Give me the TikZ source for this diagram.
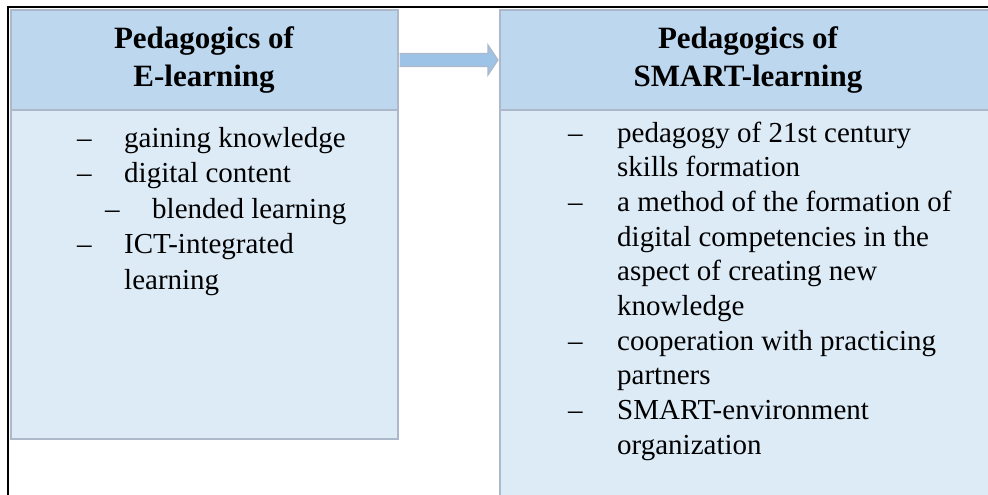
\documentclass[tikz,border=0pt]{standalone}
\usepackage{fontspec}
\setmainfont{Liberation Serif}
\usetikzlibrary{calc}
\definecolor{hdrfill}{HTML}{BDD7EE}
\definecolor{bodyfill}{HTML}{DDEBF7}
\definecolor{bordc}{HTML}{ADB9CA}
\definecolor{arrfill}{HTML}{9DC3E6}
\begin{document}
\begin{tikzpicture}[x=1pt,y=-1pt,
  box/.style={draw=bordc, line width=2pt, inner sep=0pt, anchor=north west},
  hdr/.style={box, fill=hdrfill, font=\fontsize{31}{38}\selectfont\bfseries, align=center},
  bdy/.style={box, fill=bodyfill},
  item/.style={anchor=base west, inner sep=0pt, font=\fontsize{29}{35}\selectfont},
  framel/.style={draw=black, line width=2pt},
  arrowst/.style={draw=bordc, line width=1.2pt, fill=arrfill, line join=miter}]
\clip (0,0) rectangle (988,495);
\fill[white] (0,0) rectangle (988,495);
% boxes
\node[bdy, minimum width=387pt, minimum height=329pt] (lb) at (9.5,109) {};
\node[bdy, minimum width=496pt, minimum height=400pt] (rb) at (499,109) {};
\node[hdr, minimum width=387pt, minimum height=100pt] (lh) at (9.5,9) {Pedagogics of\\E-learning};
\node[hdr, minimum width=496pt, minimum height=100pt] (rh) at (499,9) {Pedagogics of\\SMART-learning};
% arrow
\draw[arrowst] ($(lh.east)+(1,-6.5)$) -- ($(rh.west)+(-11,-6.5)$) -- ($(rh.west)+(-11,-15)$)
  -- ($(rh.west)+(-1,0)$) -- ($(rh.west)+(-11,15)$) -- ($(rh.west)+(-11,6.5)$)
  -- ($(lh.east)+(1,6.5)$);
% frame
\draw[framel] (7.5,495) -- (7.5,6.8) -- (988,6.8);
% left list
\node[item] (l1d) at (77,147) {–};
\node[item] (l1) at (124,147) {gaining knowledge};
\node[item] (l2d) at (77,182.5) {–};
\node[item] (l2) at (124,182.5) {digital content};
\node[item] (l3d) at (105,218) {–};
\node[item] (l3) at (152,218) {blended learning};
\node[item] (l4d) at (77,253.5) {–};
\node[item] (l4) at (124,253.5) {ICT-integrated};
\node[item] (l5) at (124,289) {learning};
% right list
\node[item] (r1d) at (568,142) {–};
\node[item] (r1) at (617,142) {pedagogy of 21st century};
\node[item] (r2) at (617,176.7) {skills formation};
\node[item] (r3d) at (568,211.4) {–};
\node[item] (r3) at (617,211.4) {a method of the formation of};
\node[item] (r4) at (617,246.1) {digital competencies in the};
\node[item] (r5) at (617,280.8) {aspect of creating new};
\node[item] (r6) at (617,315.5) {knowledge};
\node[item] (r7d) at (568,350.2) {–};
\node[item] (r7) at (617,350.2) {cooperation with practicing};
\node[item] (r8) at (617,384.9) {partners};
\node[item] (r9d) at (568,419.6) {–};
\node[item] (r9) at (617,419.6) {SMART-environment};
\node[item] (r10) at (617,454.3) {organization};
\end{tikzpicture}
\end{document}
